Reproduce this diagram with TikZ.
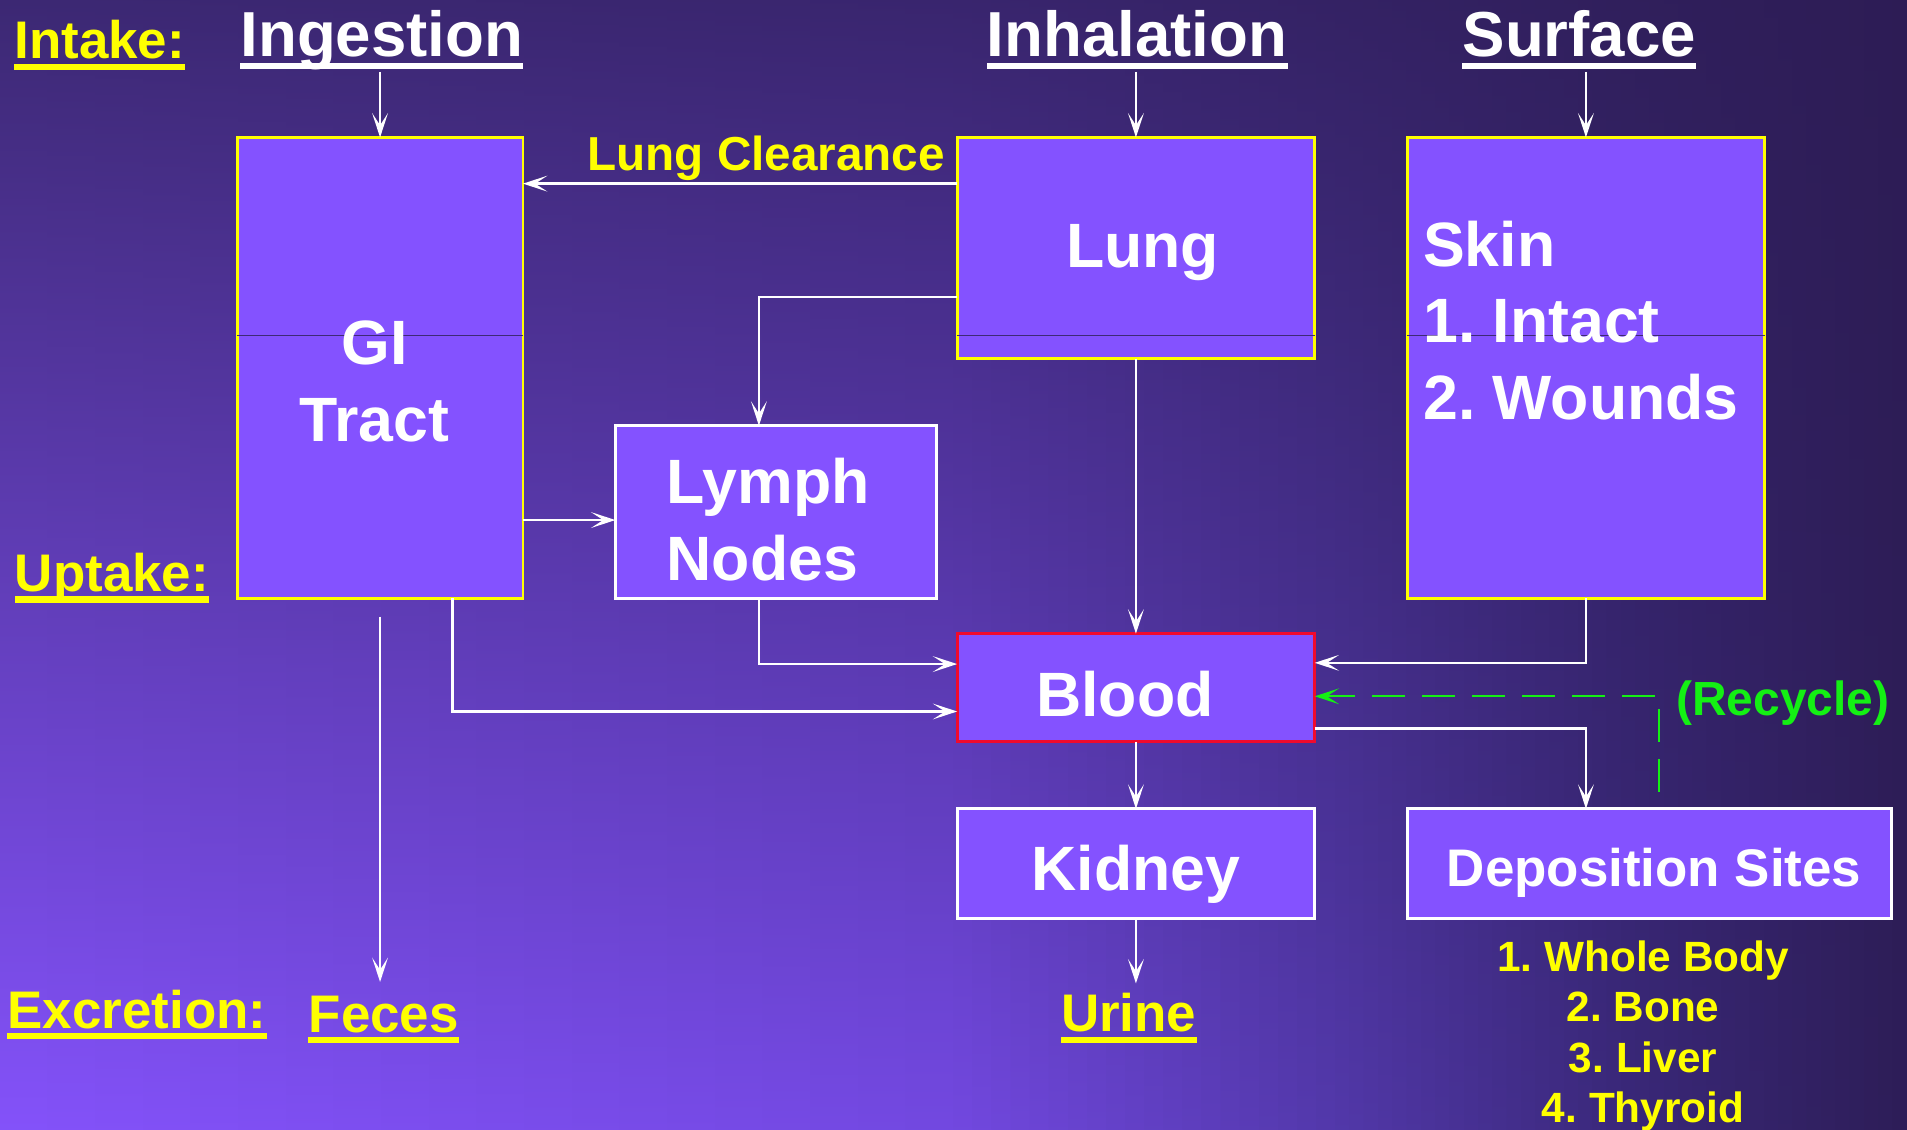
\documentclass[tikz,border=0pt]{standalone}
\usepackage{fontspec}
\setmainfont{Liberation Sans}
\usetikzlibrary{arrows.meta,calc}
\frenchspacing

\definecolor{boxfill}{RGB}{132,82,255}
\definecolor{ylw}{RGB}{255,255,0}
\definecolor{bred}{RGB}{240,10,45}
\definecolor{grn}{RGB}{20,240,20}
\definecolor{divc}{RGB}{62,42,118}
\definecolor{Ta}{RGB}{60,40,115}
\definecolor{Tb}{RGB}{57,37,110}
\definecolor{Tc}{RGB}{52,34,100}
\definecolor{Td}{RGB}{48,31,92}
\definecolor{Te}{RGB}{45,28,85}
\definecolor{Ba}{RGB}{132,82,250}
\definecolor{Bb}{RGB}{114,72,224}
\definecolor{Bc}{RGB}{82,56,170}
\definecolor{Bd}{RGB}{58,40,122}
\definecolor{Be}{RGB}{45,29,87}

\newcommand{\bgcol}[6]{%
  \foreach \k in {0,...,19}{%
    \pgfmathsetmacro{\xa}{#1+(#2-#1)*\k/20}%
    \pgfmathsetmacro{\xb}{#1+(#2-#1)*(\k+1)/20+0.8}%
    \pgfmathsetmacro{\pp}{100-(\k+0.5)*5}%
    \colorlet{stT}{#3!\pp!#4}%
    \colorlet{stB}{#5!\pp!#6}%
    \shade[top color=stT, bottom color=stB] (\xa,0) rectangle (\xb,929);
  }}
\newcommand{\myul}[3]{\fill[#1] ($(#2.base west)+(0,#3)$) rectangle ($(#2.base east)+(0,#3)+(0,5)$);}

\tikzset{
  box/.style={draw, line width=2.3pt, fill=boxfill, inner sep=0pt, outer sep=0pt, anchor=north west},
  ybox/.style={box, draw=ylw},
  wbox/.style={box, draw=white},
  conn/.style={draw=white, line width=1.9pt, -{Stealth[length=20pt,width=13pt,inset=10pt]}},
  recyc/.style={draw=grn, line width=1.9pt, dash pattern=on 27pt off 14pt, -{Stealth[length=20pt,width=13pt,inset=10pt]}},
  divline/.style={draw=divc, line width=0.8pt},
  hdr/.style={text=white, inner sep=0pt, anchor=base, font=\fontsize{52.3}{60}\selectfont\bfseries},
  ylab/.style={text=ylw, inner sep=0pt, anchor=base, font=\fontsize{43.5}{50}\selectfont\bfseries},
  btext/.style={text=white, inner sep=0pt, anchor=base, font=\fontsize{51.5}{60}\selectfont\bfseries},
  dtext/.style={text=white, inner sep=0pt, anchor=base, font=\fontsize{43.5}{50}\selectfont\bfseries},
  ltext/.style={text=ylw, inner sep=0pt, anchor=base, font=\fontsize{34.8}{40}\selectfont\bfseries},
}

\begin{document}
\begin{tikzpicture}[x=1pt,y=-1pt]
\useasboundingbox (0,0) rectangle (1568,929);
% background
\bgcol{0}{784}{Ta}{Tb}{Ba}{Bb}
\bgcol{784}{1098}{Tb}{Tc}{Bb}{Bc}
\bgcol{1098}{1333}{Tc}{Td}{Bc}{Bd}
\bgcol{1333}{1568}{Td}{Te}{Bd}{Be}

% boxes
\node[ybox, minimum width=235pt, minimum height=379pt] (gi) at (195,113) {};
\node[ybox, minimum width=294pt, minimum height=182pt] (lung) at (787,113) {};
\node[ybox, minimum width=294pt, minimum height=379pt] (skin) at (1157,113) {};
\node[wbox, minimum width=264pt, minimum height=142pt] (lymph) at (506,350) {};
\node[box, draw=bred, minimum width=294pt, minimum height=89pt] (blood) at (787,521) {};
\node[wbox, minimum width=294pt, minimum height=90pt] (kidney) at (787,665) {};
\node[wbox, minimum width=398pt, minimum height=90pt] (dep) at (1157,665) {};

% thin division lines
\draw[divline] (gi.west |- 0,276) -- (gi.east |- 0,276);
\draw[divline] (lung.west |- 0,276) -- (lung.east |- 0,276);
\draw[divline] (skin.west |- 0,276) -- (skin.east |- 0,276);

% box texts
\node[btext] (gi1) at (308,300) {GI};
\node[btext] (gi2) at (308,363) {Tract};
\node[btext] (lungt) at (939.5,220) {Lung};
\node[btext, anchor=base west] (sk1) at (1170,219.3) {Skin};
\node[btext, anchor=base west] (sk2) at (1170,282) {1. Intact};
\node[btext, anchor=base west] (sk3) at (1170,345.3) {2. Wounds};
\node[btext, anchor=base west] (ly1) at (548,414) {Lymph};
\node[btext, anchor=base west] (ly2) at (548,477) {Nodes};
\node[btext] (bloodt) at (925,589) {Blood};
\node[btext] (kidt) at (934,732) {Kidney};
\node[dtext] (dept) at (1360,729) {Deposition Sites};

% headers
\node[hdr] (ingest) at (314,46.6) {Ingestion};
\node[hdr] (inhal) at (935,46.6) {Inhalation};
\node[hdr] (surf) at (1298.5,46.6) {Surface};
\myul{white}{ingest}{5}
\myul{white}{inhal}{5}
\myul{white}{surf}{5}

% yellow labels
\node[ylab] (intake) at (82,48) {Intake:};
\node[ylab] (uptake) at (92,486.4) {Uptake:};
\node[ylab] (excr) at (112.6,845.5) {Excretion:};
\node[ylab] (feces) at (315.5,848.7) {Feces};
\node[ylab] (urine) at (928,848.4) {Urine};
\myul{ylw}{intake}{4.3}
\myul{ylw}{uptake}{4}
\myul{ylw}{excr}{4}
\myul{ylw}{feces}{4}
\myul{ylw}{urine}{4.3}

\node[text=ylw, inner sep=0pt, anchor=base, font=\fontsize{39.2}{45}\selectfont\bfseries] (lclear) at (630,140.3) {Lung Clearance};
\node[text=grn, inner sep=0pt, anchor=base west, font=\fontsize{39.4}{45}\selectfont\bfseries] (recy) at (1378,588) {(Recycle)};

\node[ltext] (d1) at (1351,798.4) {1. Whole Body};
\node[ltext] (d2) at (1351,839.5) {2. Bone};
\node[ltext] (d3) at (1351,882) {3. Liver};
\node[ltext] (d4) at (1351,923) {4. Thyroid};

% free-end coordinates
\coordinate (ingA) at (312.5,59);
\coordinate (inhA) at (934,59);
\coordinate (surA) at (1304,59);
\coordinate (fecA) at (312.5,507);
\coordinate (fecB) at (312.5,807.4);
\coordinate (urB) at (934,808.6);
\coordinate (recA) at (1364,651);

% connectors
\draw[conn] (ingA) -- (gi.north);
\draw[conn] (inhA) -- (lung.north);
\draw[conn] (surA) -- (skin.north);
\draw[conn] (lung.west |- 0,151) -- (gi.east |- 0,151);
\draw[conn] (lung.west |- 0,244) -| ([xshift=-14pt]lymph.north);
\draw[conn] (gi.east |- 0,427.6) -- (lymph.west |- 0,427.6);
\draw[conn] (lung.south) -- (blood.north);
\draw[conn] ([xshift=-14pt]lymph.south) |- (blood.west |- 0,546);
\draw[conn] ([xshift=59.5pt]gi.south) |- (blood.west |- 0,585);
\draw[conn] (skin.south) |- (blood.east |- 0,545);
\draw[conn] (blood.east |- 0,599) -| (skin.south |- dep.north);
\draw[conn] (blood.south) -- (kidney.north);
\draw[conn] (kidney.south) -- (urB);
\draw[conn] (fecA) -- (fecB);
\draw[recyc] (recA) |- (blood.east |- 0,572.5);
\end{tikzpicture}
\end{document}
